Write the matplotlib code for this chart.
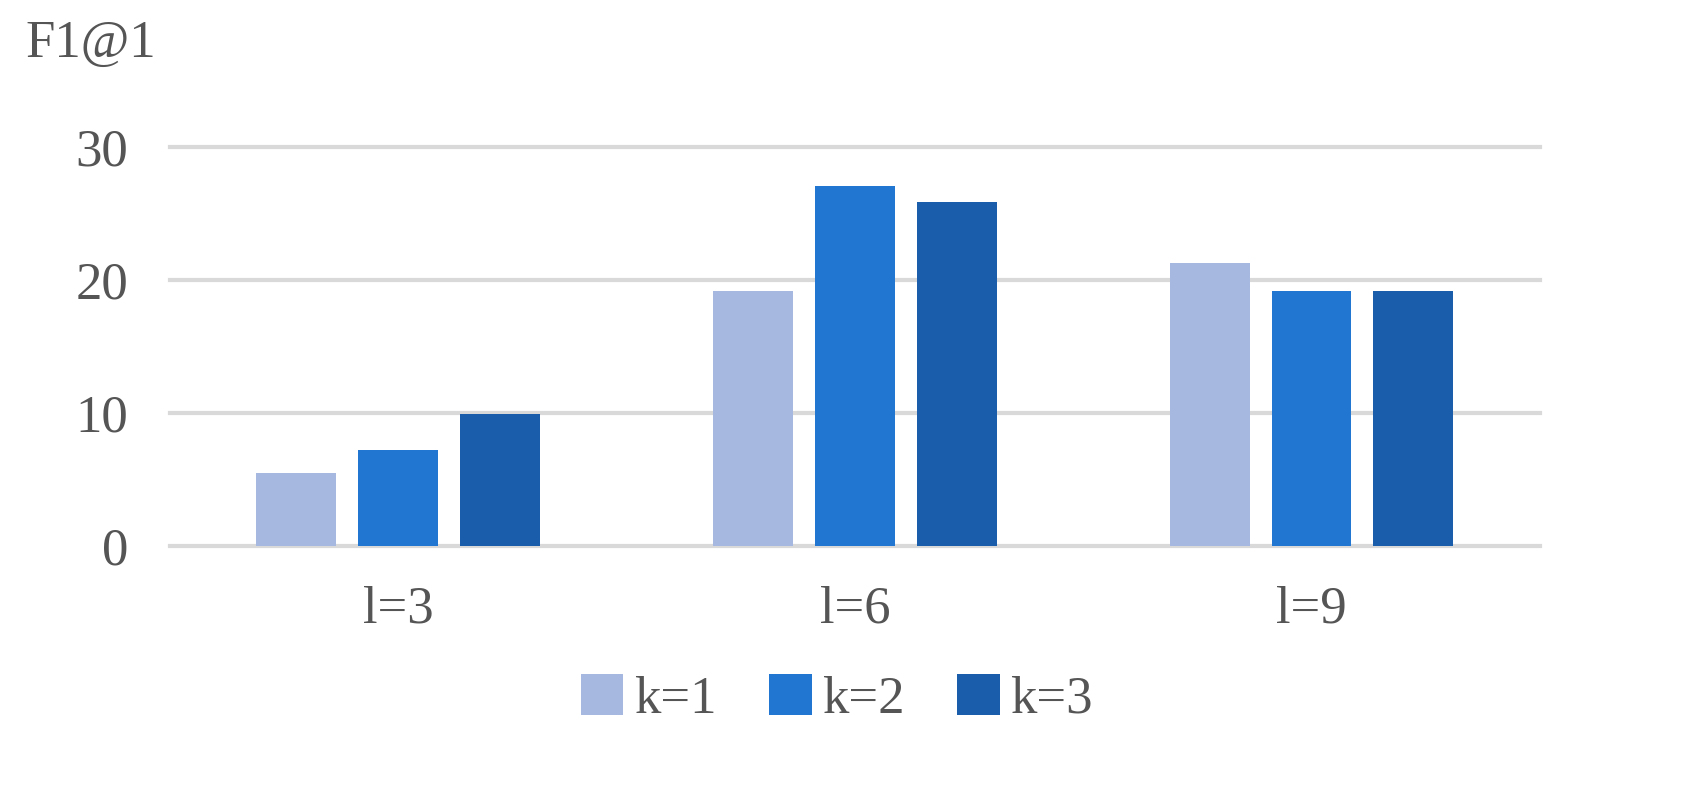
import matplotlib
matplotlib.use("Agg")
import matplotlib.pyplot as plt
import numpy as np

categories = ["l=3", "l=6", "l=9"]
series_names = ["k=1", "k=2", "k=3"]
k1 = [5.5, 19.2, 21.3]
k2 = [7.2, 27.1, 19.2]
k3 = [9.9, 25.9, 19.2]
yticks = [0, 10, 20, 30]

colors = ["#A6B7E0", "#2176D2", "#1A5DAA"]
plt.rcParams['font.family'] = ['Liberation Serif', 'DejaVu Serif']

fig = plt.figure(figsize=(17.08, 8.08), dpi=100)
ax = fig.add_axes([0.0995, 0.324, 0.802, 0.494])
x = np.arange(len(categories))
w, step = 0.175, 0.223
for i, (vals, name) in enumerate(zip([k1, k2, k3], series_names)):
    ax.bar(x + (i - 1) * step, vals, w, color=colors[i], label=name, zorder=3)
ax.set_xlim(-0.5, 2.5)
ax.set_ylim(0, 30)
ax.set_yticks(yticks)
ax.grid(axis='y', color='#D9D9D9', linewidth=3, zorder=0)
ax.set_axisbelow(True)
for s in ax.spines.values():
    s.set_visible(False)
ax.tick_params(length=0, labelsize=38, labelcolor='#555555', pad=30)
ax.tick_params(axis='x', pad=28)
ax.set_xticks(x)
ax.set_xticklabels(categories)
for l in ax.get_ygridlines():
    l.set_clip_on(False)
fig.text(0.015, 0.945, "F1@1", fontsize=38, color='#555555', va='center')
fig.legend(loc='center', bbox_to_anchor=(0.49, 0.135), ncol=3, frameon=False,
           fontsize=38, labelcolor='#555555', handlelength=0.8, handleheight=0.8,
           handletextpad=0.2, columnspacing=1.0)
fig.savefig("out.png", dpi=100)
